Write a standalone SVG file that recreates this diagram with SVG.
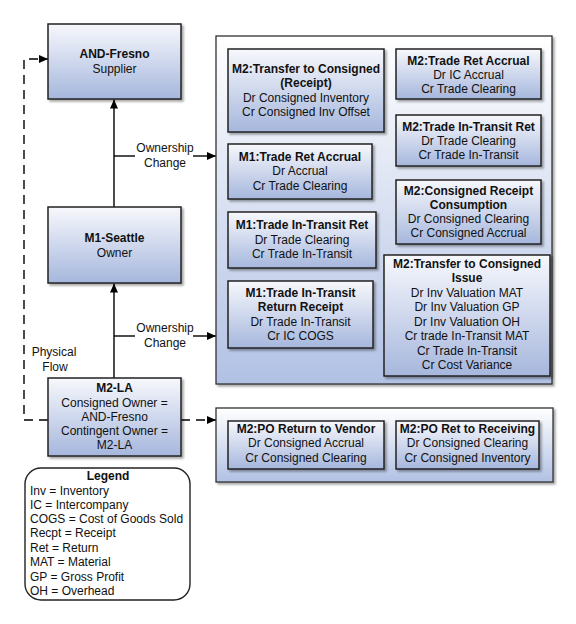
<svg xmlns="http://www.w3.org/2000/svg" width="576" height="624" viewBox="0 0 576 624">
<style>
text{font-family:"Liberation Sans",Arial,sans-serif;font-size:12px;fill:#111;text-anchor:middle}
.b{font-weight:bold}
.l{text-anchor:start}
.box{fill:url(#g);stroke:#222;stroke-width:1.5;filter:url(#ds)}
.pan{fill:url(#gp);stroke:#333;stroke-width:1.3;filter:url(#ds)}
.ln{fill:none;stroke:#000;stroke-width:1.4}
.dash{fill:none;stroke:#000;stroke-width:1.4;stroke-dasharray:9,6}
</style>
<defs>
<linearGradient id="g" x1="0" y1="0" x2="0" y2="1">
<stop offset="0" stop-color="#f7f8fc"/>
<stop offset="1" stop-color="#a6b7dd"/>
</linearGradient>
<linearGradient id="gp" x1="0" y1="0" x2="0" y2="1">
<stop offset="0" stop-color="#ffffff"/>
<stop offset="1" stop-color="#b1c1e4"/>
</linearGradient>
<filter id="ds" x="-10%" y="-10%" width="130%" height="130%">
<feDropShadow dx="2" dy="2" stdDeviation="1" flood-color="#000" flood-opacity="0.35"/>
</filter>
<marker id="ar" markerUnits="userSpaceOnUse" markerWidth="9" markerHeight="8" refX="9" refY="4" orient="auto">
<path d="M0,0 L9,4 L0,8 z" fill="#000"/>
</marker>
</defs>

<g id="connectors">
<line class="ln" x1="114" y1="207" x2="114" y2="99.5" marker-end="url(#ar)"/>
<line class="ln" x1="114" y1="156" x2="135" y2="156"/>
<line class="ln" x1="193" y1="156" x2="216" y2="156" marker-end="url(#ar)"/>
<line class="ln" x1="114" y1="378" x2="114" y2="283.5" marker-end="url(#ar)"/>
<line class="ln" x1="114" y1="336" x2="135" y2="336"/>
<line class="ln" x1="193" y1="336" x2="216" y2="336" marker-end="url(#ar)"/>
<polyline class="dash" points="48,420 24,420 24,59 48,59" marker-end="url(#ar)"/>
<line class="dash" x1="181" y1="420" x2="216" y2="420" marker-end="url(#ar)"/>
<text x="165" y="152">Ownership</text>
<text x="165" y="167">Change</text>
<text x="165" y="332">Ownership</text>
<text x="165" y="347">Change</text>
<text x="54" y="356">Physical</text>
<text x="55" y="371">Flow</text>
</g>

<g id="and-fresno">
<rect class="box" x="48" y="24" width="133" height="75"/>
<text class="b" x="114.5" y="58">AND-Fresno</text>
<text x="114.5" y="73">Supplier</text>
</g>

<g id="m1-seattle">
<rect class="box" x="48" y="207" width="133" height="76"/>
<text class="b" x="114.5" y="242">M1-Seattle</text>
<text x="114.5" y="257">Owner</text>
</g>

<g id="m2-la">
<rect class="box" x="48" y="378" width="133" height="78"/>
<text class="b" x="114.5" y="392">M2-LA</text>
<text x="114.5" y="407">Consigned Owner =</text>
<text x="114.5" y="421">AND-Fresno</text>
<text x="114.5" y="435">Contingent Owner =</text>
<text x="114.5" y="449">M2-LA</text>
</g>

<g id="panel-top">
<rect class="pan" x="216" y="36" width="336" height="348"/>
</g>

<g id="m2-transfer-receipt">
<rect class="box" x="228" y="49" width="156" height="83"/>
<text class="b" x="306" y="73">M2:Transfer to Consigned</text>
<text class="b" x="306" y="87">(Receipt)</text>
<text x="306" y="102">Dr Consigned Inventory</text>
<text x="306" y="116">Cr Consigned Inv Offset</text>
</g>

<g id="m1-trade-ret-accrual">
<rect class="box" x="228" y="144" width="144" height="55"/>
<text class="b" x="300" y="161">M1:Trade Ret Accrual</text>
<text x="300" y="175">Dr Accrual</text>
<text x="300" y="190">Cr Trade Clearing</text>
</g>

<g id="m1-trade-intransit-ret">
<rect class="box" x="228" y="212" width="148" height="56"/>
<text class="b" x="302" y="229">M1:Trade In-Transit Ret</text>
<text x="302" y="244">Dr Trade Clearing</text>
<text x="302" y="258">Cr Trade In-Transit</text>
</g>

<g id="m1-trade-intransit-return-receipt">
<rect class="box" x="228" y="281" width="145" height="67"/>
<text class="b" x="300.5" y="297">M1:Trade In-Transit</text>
<text class="b" x="300.5" y="311">Return Receipt</text>
<text x="300.5" y="326">Dr Trade In-Transit</text>
<text x="300.5" y="340">Cr IC COGS</text>
</g>

<g id="m2-trade-ret-accrual">
<rect class="box" x="396" y="49" width="145" height="50"/>
<text class="b" x="468.5" y="64.5">M2:Trade Ret Accrual</text>
<text x="468.5" y="78.5">Dr IC Accrual</text>
<text x="468.5" y="92.5">Cr Trade Clearing</text>
</g>

<g id="m2-trade-intransit-ret">
<rect class="box" x="396" y="115" width="145" height="51"/>
<text class="b" x="468.5" y="130.5">M2:Trade In-Transit Ret</text>
<text x="468.5" y="144.5">Dr Trade Clearing</text>
<text x="468.5" y="158.5">Cr Trade In-Transit</text>
</g>

<g id="m2-consigned-receipt-consumption">
<rect class="box" x="396" y="180" width="145" height="64"/>
<text class="b" x="468.5" y="195">M2:Consigned Receipt</text>
<text class="b" x="468.5" y="209">Consumption</text>
<text x="468.5" y="223">Dr Consigned Clearing</text>
<text x="468.5" y="237">Cr Consigned Accrual</text>
</g>

<g id="m2-transfer-issue">
<rect class="box" x="384" y="255" width="166" height="121"/>
<text class="b" x="467" y="267.5">M2:Transfer to Consigned</text>
<text class="b" x="467" y="282">Issue</text>
<text x="467" y="296.5">Dr Inv Valuation MAT</text>
<text x="467" y="311">Dr Inv Valuation GP</text>
<text x="467" y="325.5">Dr Inv Valuation OH</text>
<text x="467" y="340">Cr trade In-Transit MAT</text>
<text x="467" y="354.5">Cr Trade In-Transit</text>
<text x="467" y="369">Cr Cost Variance</text>
</g>

<g id="panel-bottom">
<rect class="pan" x="216" y="408" width="337" height="74"/>
</g>

<g id="m2-po-return-vendor">
<rect class="box" x="228" y="421" width="156" height="48"/>
<text class="b" x="306" y="433">M2:PO Return to Vendor</text>
<text x="306" y="447">Dr Consigned Accrual</text>
<text x="306" y="462">Cr Consigned Clearing</text>
</g>

<g id="m2-po-ret-receiving">
<rect class="box" x="396" y="421" width="143" height="48"/>
<text class="b" x="467.5" y="433">M2:PO Ret to Receiving</text>
<text x="467.5" y="447">Dr Consigned Clearing</text>
<text x="467.5" y="462">Cr Consigned Inventory</text>
</g>

<g id="legend">
<rect x="25" y="468" width="165" height="132" rx="16" ry="16" fill="#fff" stroke="#222" stroke-width="1.4"/>
<text class="b" x="108" y="480">Legend</text>
<text class="l" x="30" y="495">Inv = Inventory</text>
<text class="l" x="30" y="509">IC = Intercompany</text>
<text class="l" x="30" y="523">COGS = Cost of Goods Sold</text>
<text class="l" x="30" y="537">Recpt = Receipt</text>
<text class="l" x="30" y="552">Ret = Return</text>
<text class="l" x="30" y="566">MAT = Material</text>
<text class="l" x="30" y="581">GP = Gross Profit</text>
<text class="l" x="30" y="595">OH = Overhead</text>
</g>
</svg>
